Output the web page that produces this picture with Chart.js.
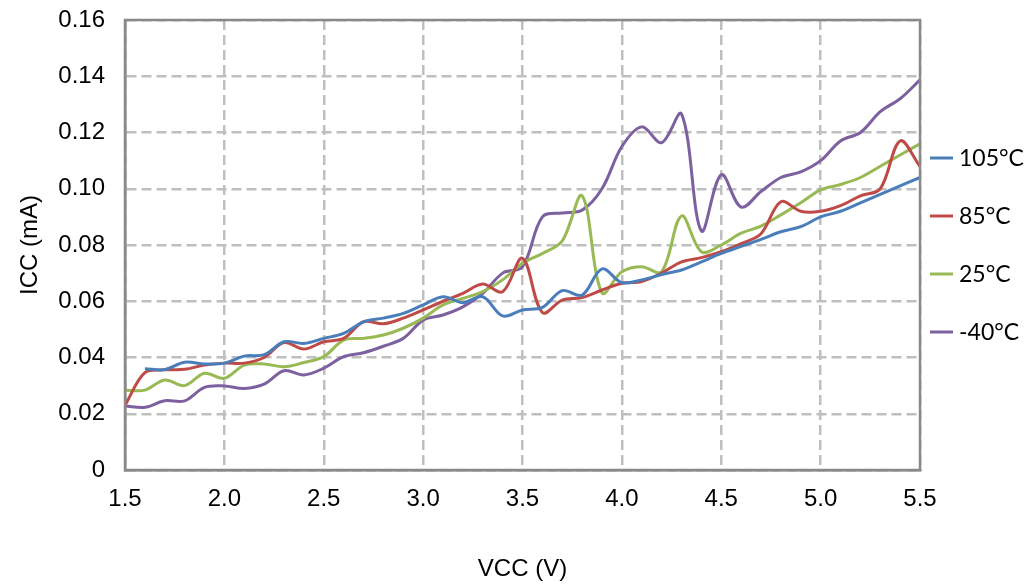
<!DOCTYPE html>
<html>
<head>
<meta charset="utf-8">
<script src="https://cdn.jsdelivr.net/npm/chart.js@4/dist/chart.umd.min.js"></script>
<style>
  html, body { margin: 0; padding: 0; background: #fff; }
  #wrap { width: 1027px; height: 587px; }
</style>
</head>
<body>
<div id="wrap"><canvas id="c" width="1027" height="587"></canvas></div>
<script>
const vcc = [1.5,1.6,1.7,1.8,1.9,2.0,2.1,2.2,2.3,2.4,2.5,2.6,2.7,2.8,2.9,3.0,3.1,3.2,3.3,3.4,3.5,3.6,3.7,3.8,3.9,4.0,4.1,4.2,4.3,4.4,4.5,4.6,4.7,4.8,4.9,5.0,5.1,5.2,5.3,5.4,5.5];

const seriesLabels = ['105°C', '85°C', '25°C', '-40°C'];

const icc105 = [null,0.036,0.0357,0.0383,0.0377,0.038,0.0405,0.041,0.0456,0.045,0.0468,0.0486,0.0527,0.054,0.0557,0.0587,0.0616,0.0595,0.0616,0.0548,0.0569,0.0578,0.0638,0.0622,0.0715,0.0666,0.0676,0.0695,0.0711,0.074,0.077,0.0795,0.082,0.0847,0.0865,0.090,0.092,0.095,0.098,0.101,0.104];
const icc85 = [0.023,0.0346,0.0356,0.0358,0.0373,0.038,0.038,0.040,0.0453,0.043,0.0456,0.0468,0.0527,0.052,0.054,0.0569,0.060,0.0628,0.0661,0.0634,0.0753,0.056,0.0604,0.0613,0.064,0.0664,0.067,0.070,0.074,0.0755,0.0776,0.0805,0.084,0.0954,0.092,0.092,0.094,0.0975,0.100,0.117,0.108];
const icc25 = [0.0284,0.0284,0.032,0.030,0.0344,0.0326,0.0373,0.0377,0.0367,0.0382,0.0403,0.0462,0.0468,0.048,0.0504,0.054,0.0587,0.061,0.0634,0.0676,0.0735,0.077,0.0815,0.0975,0.063,0.0705,0.0723,0.0705,0.0903,0.0776,0.080,0.0842,0.0867,0.0907,0.095,0.0996,0.1015,0.104,0.108,0.112,0.116];
const iccM40 = [0.0228,0.0223,0.0246,0.0246,0.0294,0.0299,0.029,0.0305,0.0353,0.0338,0.0362,0.0403,0.0417,0.044,0.0468,0.0533,0.0551,0.058,0.0628,0.070,0.0723,0.090,0.0914,0.0924,0.100,0.115,0.122,0.1164,0.1266,0.085,0.105,0.0935,0.099,0.104,0.106,0.110,0.117,0.120,0.1274,0.132,0.1387];

const xTickValues = [1.5,2.0,2.5,3.0,3.5,4.0,4.5,5.0,5.5];
const xTickLabels = ['1.5','2.0','2.5','3.0','3.5','4.0','4.5','5.0','5.5'];
const yTickValues = [0,0.02,0.04,0.06,0.08,0.10,0.12,0.14,0.16];
const yTickLabels = ['0','0.02','0.04','0.06','0.08','0.10','0.12','0.14','0.16'];

const colors = ['#4a7ebb', '#be4b48', '#98b954', '#7d60a0'];
const allSeries = [icc105, icc85, icc25, iccM40];

function toPoints(arr) { return vcc.map((v, i) => ({x: v, y: arr[i]})); }

function labelFor(values, labels, v) {
  for (let i = 0; i < values.length; i++) {
    if (Math.abs(values[i] - v) < 1e-6) return labels[i];
  }
  return '';
}

const frameAndLegend = {
  id: 'frameAndLegend',
  afterDraw(chart) {
    const ctx = chart.ctx;
    const a = chart.chartArea;
    ctx.save();
    ctx.strokeStyle = '#898989';
    ctx.lineWidth = 2.5;
    ctx.setLineDash([]);
    ctx.strokeRect(a.left, a.top, a.right - a.left, a.bottom - a.top);
    // legend
    const cy = (a.top + a.bottom) / 2;
    ctx.font = '23px Lato, "Open Sans", sans-serif';
    ctx.textBaseline = 'middle';
    ctx.textAlign = 'left';
    chart.data.datasets.forEach((ds, i) => {
      const y = cy + (i - 1.5) * 58;
      ctx.strokeStyle = ds.borderColor;
      ctx.lineWidth = 3;
      ctx.beginPath();
      ctx.moveTo(a.right + 10, y);
      ctx.lineTo(a.right + 33, y);
      ctx.stroke();
      ctx.fillStyle = '#000';
      ctx.fillText(ds.label, a.right + 39, y + 1);
    });
    ctx.restore();
  }
};

new Chart(document.getElementById('c'), {
  type: 'line',
  data: {
    datasets: allSeries.map((arr, i) => ({
      label: seriesLabels[i],
      data: toPoints(arr),
      borderColor: colors[i],
      backgroundColor: colors[i],
      borderWidth: 3,
      pointRadius: 0,
      tension: 0.35,
      fill: false,
      spanGaps: false
    }))
  },
  options: {
    responsive: false,
    animation: false,
    layout: { padding: { left: 0, top: 20, right: 107, bottom: 0 } },
    plugins: { legend: { display: false }, tooltip: { enabled: false } },
    scales: {
      x: {
        type: 'linear',
        min: 1.5, max: 5.5,
        afterBuildTicks(scale) { scale.ticks = xTickValues.map(v => ({value: v})); },
        afterFit(scale) { scale.height = 117; scale.paddingLeft = 0; scale.paddingRight = 0; },
        ticks: {
          padding: 15,
          color: '#000',
          font: { family: '"Liberation Sans", Arial, sans-serif', size: 24 },
          maxRotation: 0,
          callback: (v) => labelFor(xTickValues, xTickLabels, v)
        },
        grid: { color: '#bfbfbf', lineWidth: 2.5, drawTicks: false },
        border: { display: true, color: '#898989', width: 2.5, dash: [10, 5] },
        title: {
          display: true, text: 'VCC (V)', color: '#000',
          font: { family: '"Liberation Sans", Arial, sans-serif', size: 24 },
          padding: { top: 0, bottom: 3 }
        }
      },
      y: {
        type: 'linear',
        min: 0, max: 0.16,
        afterBuildTicks(scale) { scale.ticks = yTickValues.map(v => ({value: v})); },
        afterFit(scale) { scale.width = 125; scale.paddingTop = 0; scale.paddingBottom = 0; },
        ticks: {
          padding: 20,
          color: '#000',
          font: { family: '"Liberation Sans", Arial, sans-serif', size: 24 },
          callback: (v) => labelFor(yTickValues, yTickLabels, v)
        },
        grid: { color: '#bfbfbf', lineWidth: 2.5, drawTicks: false },
        border: { display: true, color: '#898989', width: 2.5, dash: [10, 5] },
        title: {
          display: true, text: 'ICC (mA)', color: '#000',
          font: { family: '"Liberation Sans", Arial, sans-serif', size: 24 },
          padding: { top: 16, bottom: 0 }
        }
      }
    }
  },
  plugins: [frameAndLegend]
});
</script>
</body>
</html>
